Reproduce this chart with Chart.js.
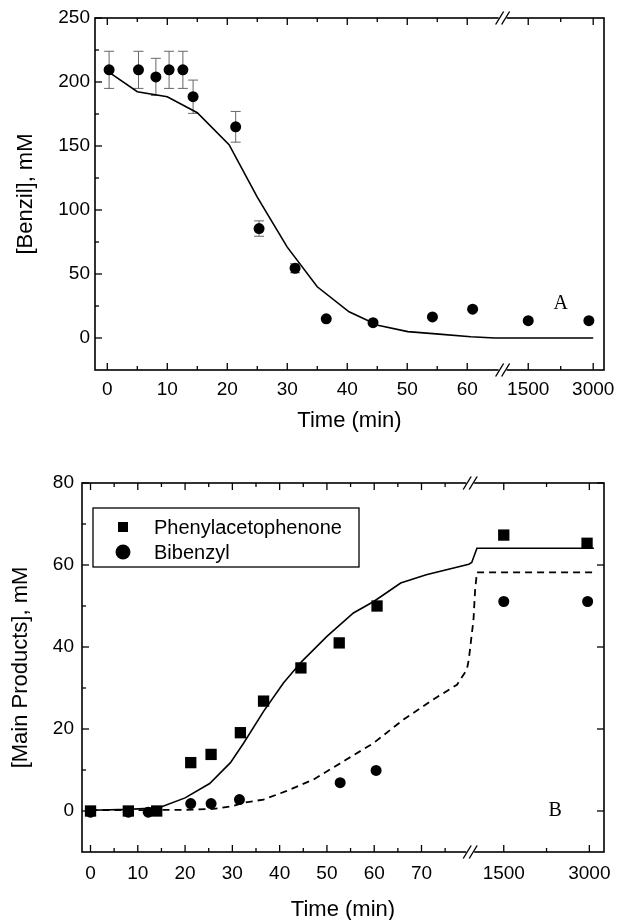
<!DOCTYPE html>
<html>
<head>
<meta charset="utf-8">
<script src="https://cdn.jsdelivr.net/npm/chart.js@4/dist/chart.umd.min.js"></script>
<style>
  body { margin: 0; background: #fff; width: 620px; height: 920px; overflow: hidden; position: relative; }
  .box { position: absolute; left: 0; width: 620px; }
</style>
</head>
<body>
<div class="box" style="top:0;height:440px"><canvas id="chartA" width="620" height="440"></canvas></div>
<div class="box" style="top:440px;height:500px"><canvas id="chartB" width="620" height="500"></canvas></div>
<script>
// ---- panel A: benzil ----
const benzilTime = [0.3, 5.2, 8.1, 10.3, 12.6, 14.3, 21.4, 25.3, 31.3, 36.5, 44.3, 54.2, 60.9, 1500, 2900];
const benzilConc = [209.5, 209.5, 204, 209.5, 209.5, 188.5, 165, 85.5, 54.5, 15, 12, 16.5, 22.5, 13.5, 13.5];
const benzilErr  = [14.5, 14.5, 14.5, 14.5, 14.5, 13, 12, 6, 3.5, 0, 0, 0, 0, 0, 0];
const benzilModelTime = [0.5, 5, 10, 15, 20.3, 25, 30, 35, 40.3, 45.1, 50.1, 55.3, 60.6, 64.6, 3000];
const benzilModelConc = [207, 192.4, 188.5, 176, 151, 110, 71, 40, 20.5, 10, 5, 3, 1, 0, 0];
const aXTicks = [0, 10, 20, 30, 40, 50, 60, 1500, 3000];
const aXMinor = [5, 15, 25, 35, 45, 55, 2250];
const aYTicks = [0, 50, 100, 150, 200, 250];
const aYMinor = [25, 75, 125, 175, 225];

// ---- panel B: main products ----
const phenylTime = [0, 8, 14, 21.2, 25.5, 31.7, 36.6, 44.5, 52.6, 60.6, 1500, 2960];
const phenylConc = [0, 0, 0, 11.8, 13.8, 19.1, 26.8, 34.9, 41, 50, 67.3, 65.3];
const bibenzylTime = [0, 8, 12.2, 21.2, 25.5, 31.5, 52.8, 60.4, 1500, 2970];
const bibenzylConc = [-0.3, -0.3, -0.3, 1.8, 1.8, 2.8, 6.9, 9.9, 51.1, 51.1];
const phenylModelTime = [0, 8, 14.5, 20, 25.2, 29.6, 32.4, 36.6, 40.8, 44.7, 50, 55.6, 59.9, 65.6, 71, 80, 500, 1030, 3080];
const phenylModelConc = [0.2, 0.4, 0.8, 3.2, 6.7, 11.8, 16.6, 24.3, 31.2, 36.5, 42.6, 48.3, 51.1, 55.6, 57.6, 60.2, 60.6, 64.1, 64.1];
const bibenzylModelTime = [0, 10, 20, 26, 30, 32.4, 36.6, 41.5, 47.2, 54.2, 59.9, 66.2, 72.5, 77.5, 79.6, 80, 750, 985, 1030, 3080];
const bibenzylModelConc = [0.2, 0.2, 0.3, 0.5, 1.2, 2.0, 2.8, 4.9, 7.7, 12.6, 16.6, 22.3, 27.2, 30.8, 34.5, 36.9, 46.6, 54, 58.2, 58.2];
const bXTicks = [0, 10, 20, 30, 40, 50, 60, 70, 1500, 3000];
const bXMinor = [5, 15, 25, 35, 45, 55, 65, 75, 2250];
const bYTicks = [0, 20, 40, 60, 80];
const bYMinor = [10, 30, 50, 70];

const SANS = '"Liberation Sans", Arial, Helvetica, sans-serif';
const SERIF = '"Liberation Serif", "Times New Roman", serif';

// broken time axis: linear part, squeezed gap, then the long-time part
function makeAxisMap(linEnd, p1500, p3000) {
  const slope = (p3000 - p1500) / 1500;
  const p1000 = p1500 - 500 * slope;
  return t => {
    if (t <= linEnd) return t;
    if (t < 1000) return linEnd + (t - linEnd) / (1000 - linEnd) * (p1000 - linEnd);
    return p1500 + (t - 1500) * slope;
  };
}
const posA = makeAxisMap(65, 70.17, 81.0);
const posB = makeAxisMap(80, 87.4, 105.5);

const pts = (ts, vs, pos) => ts.map((t, i) => ({ x: pos(t), y: vs[i] }));

function makeDeco(cfg) {
  return {
    id: 'deco',
    beforeDatasetsDraw(chart) {
      const { ctx, chartArea: a, scales: { x, y } } = chart;
      ctx.save();
      ctx.strokeStyle = '#000';
      ctx.lineWidth = 1.6;
      ctx.strokeRect(a.left, a.top, a.right - a.left, a.bottom - a.top);
      ctx.lineWidth = 1.3;
      const tick = (px, py, dx, dy) => {
        ctx.beginPath(); ctx.moveTo(px, py); ctx.lineTo(px + dx, py + dy); ctx.stroke();
      };
      cfg.xMajor.forEach(t => {
        const px = x.getPixelForValue(cfg.pos(t));
        tick(px, a.bottom, 0, -7); tick(px, a.top, 0, 7);
      });
      cfg.xMinor.forEach(t => {
        const px = x.getPixelForValue(cfg.pos(t));
        tick(px, a.bottom, 0, -4); tick(px, a.top, 0, 4);
      });
      cfg.yMajor.forEach(v => {
        const py = y.getPixelForValue(v);
        tick(a.left, py, 7, 0);
        if (cfg.rightTicks) tick(a.right, py, -7, 0);
      });
      cfg.yMinor.forEach(v => tick(a.left, y.getPixelForValue(v), 4, 0));

      // error bars
      if (cfg.err) {
        ctx.strokeStyle = '#666';
        ctx.lineWidth = 1;
        cfg.err.time.forEach((t, i) => {
          const e = cfg.err.size[i];
          if (!e) return;
          const px = x.getPixelForValue(cfg.pos(t));
          const hi = y.getPixelForValue(cfg.err.val[i] + e);
          const lo = y.getPixelForValue(cfg.err.val[i] - e);
          ctx.beginPath();
          ctx.moveTo(px, hi); ctx.lineTo(px, lo);
          ctx.moveTo(px - 5, hi); ctx.lineTo(px + 5, hi);
          ctx.moveTo(px - 5, lo); ctx.lineTo(px + 5, lo);
          ctx.stroke();
        });
      }
      ctx.restore();
    },
    afterDatasetsDraw(chart) {
      const { ctx, chartArea: a, scales: { x, y } } = chart;
      ctx.save();
      // axis break marks
      const bx = x.getPixelForValue(cfg.breakAt);
      [a.top, a.bottom].forEach(ay => {
        ctx.fillStyle = '#fff';
        ctx.fillRect(bx - 4, ay - 2, 8, 4);
        ctx.strokeStyle = '#000';
        ctx.lineWidth = 1.4;
        [-3, 3].forEach(d => {
          ctx.beginPath();
          ctx.moveTo(bx + d - 4, ay + 6.5);
          ctx.lineTo(bx + d + 4, ay - 6.5);
          ctx.stroke();
        });
      });
      // panel letter
      ctx.fillStyle = '#000';
      ctx.font = '20px ' + SERIF;
      ctx.textAlign = 'center';
      ctx.textBaseline = 'middle';
      ctx.fillText(cfg.letter.text, x.getPixelForValue(cfg.pos(cfg.letter.t)), y.getPixelForValue(cfg.letter.v));

      // legend box
      if (cfg.legend) {
        const lx = a.left + 11, ly = a.top + 25, lw = 266, lh = 59;
        ctx.fillStyle = '#fff';
        ctx.fillRect(lx, ly, lw, lh);
        ctx.strokeStyle = '#000';
        ctx.lineWidth = 1.3;
        ctx.strokeRect(lx, ly, lw, lh);
        ctx.fillStyle = '#000';
        ctx.font = '20px ' + SANS;
        ctx.textAlign = 'left';
        cfg.legend.forEach((item, i) => {
          const cy = ly + 19 + i * 25;
          const mx = lx + 30;
          if (item.style === 'rect') ctx.fillRect(mx - 5, cy - 5, 10, 10);
          else { ctx.beginPath(); ctx.arc(mx, cy, 7.5, 0, Math.PI * 2); ctx.fill(); }
          ctx.fillText(item.label, lx + 61, cy + 1);
        });
      }
      ctx.restore();
    }
  };
}

function xAxis(ticks, pos, min, max, height, labelPad, titlePad) {
  return {
    type: 'linear', min, max,
    grid: { display: false, drawTicks: false }, border: { display: false },
    afterBuildTicks: s => { s.ticks = ticks.map(t => ({ value: pos(t) })); },
    afterFit: s => { s.height = height; s.paddingLeft = 0; s.paddingRight = 0; },
    ticks: { autoSkip: false, maxRotation: 0, padding: labelPad, color: '#000',
             font: { family: SANS, size: 19 }, callback: (v, i) => String(ticks[i]) },
    title: { display: true, text: 'Time (min)', color: '#000',
             font: { family: SANS, size: 22 }, padding: { top: 0, bottom: titlePad } }
  };
}

function yAxis(ticks, min, max, width, labelPad, title, titlePad) {
  return {
    type: 'linear', min, max,
    grid: { display: false, drawTicks: false }, border: { display: false },
    afterBuildTicks: s => { s.ticks = ticks.map(v => ({ value: v })); },
    afterFit: s => { s.width = width; s.paddingTop = 0; s.paddingBottom = 0; },
    ticks: { padding: labelPad, color: '#000', font: { family: SANS, size: 19 } },
    title: { display: true, text: title, color: '#000',
             font: { family: SANS, size: 22 }, padding: { top: titlePad, bottom: 0 } }
  };
}

const common = {
  responsive: false,
  animation: false,
  devicePixelRatio: 1,
  plugins: { legend: { display: false }, tooltip: { enabled: false } }
};

new Chart(document.getElementById('chartA'), {
  type: 'scatter',
  data: {
    datasets: [
      { label: 'Benzil', data: pts(benzilTime, benzilConc, posA),
        pointRadius: 5.5, pointBackgroundColor: '#000', pointBorderWidth: 0 },
      { label: 'Model', data: pts(benzilModelTime, benzilModelConc, posA), showLine: true,
        borderColor: '#000', borderWidth: 1.6, pointRadius: 0, tension: 0 }
    ]
  },
  options: {
    ...common,
    layout: { padding: { top: 18, right: 16, left: 0, bottom: 0 } },
    scales: {
      x: xAxis(aXTicks, posA, -2.05, 82.8, 70, 8, 6),
      y: yAxis(aYTicks, -25, 250, 95, 5, '[Benzil], mM', 13)
    }
  },
  plugins: [makeDeco({
    pos: posA, xMajor: aXTicks, xMinor: aXMinor, yMajor: aYTicks, yMinor: aYMinor,
    rightTicks: false, breakAt: 65.9,
    err: { time: benzilTime, val: benzilConc, size: benzilErr },
    letter: { text: 'A', t: 2250, v: 27 }
  })]
});

new Chart(document.getElementById('chartB'), {
  type: 'scatter',
  data: {
    datasets: [
      { label: 'Phenylacetophenone', data: pts(phenylTime, phenylConc, posB),
        pointStyle: 'rect', pointRadius: 8, pointBackgroundColor: '#000', pointBorderWidth: 0 },
      { label: 'Bibenzyl', data: pts(bibenzylTime, bibenzylConc, posB),
        pointRadius: 5.5, pointBackgroundColor: '#000', pointBorderWidth: 0 },
      { label: 'Phenylacetophenone model', data: pts(phenylModelTime, phenylModelConc, posB), showLine: true,
        borderColor: '#000', borderWidth: 1.6, pointRadius: 0, tension: 0 },
      { label: 'Bibenzyl model', data: pts(bibenzylModelTime, bibenzylModelConc, posB), showLine: true,
        borderColor: '#000', borderWidth: 1.8, borderDash: [7, 5], pointRadius: 0, tension: 0 }
    ]
  },
  options: {
    ...common,
    layout: { padding: { top: 43, right: 16, left: 0, bottom: 0 } },
    scales: {
      x: xAxis(bXTicks, posB, -1.8, 108.6, 88, 10, 17),
      y: yAxis(bYTicks, -10, 80, 82, 8, '[Main Products], mM', 8)
    }
  },
  plugins: [makeDeco({
    pos: posB, xMajor: bXTicks, xMinor: bXMinor, yMajor: bYTicks, yMinor: bYMinor,
    rightTicks: true, breakAt: 80.3,
    letter: { text: 'B', t: 2400, v: 0 },
    legend: [{ style: 'rect', label: 'Phenylacetophenone' }, { style: 'circle', label: 'Bibenzyl' }]
  })]
});
</script>
</body>
</html>
